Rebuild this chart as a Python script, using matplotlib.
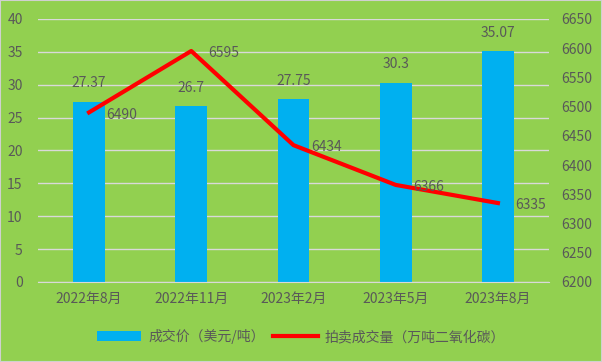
import numpy as np
import matplotlib
matplotlib.use("Agg")
import matplotlib.pyplot as plt
from matplotlib.patches import Rectangle

plt.rcParams['font.family'] = ['Noto Sans CJK SC', 'DejaVu Sans']

months = ["2022年8月", "2022年11月", "2023年2月", "2023年5月", "2023年8月"]
price = [27.37, 26.7, 27.75, 30.3, 35.07]
volume = [6490, 6595, 6434, 6366, 6335]

bg = '#92D050'
bar_color = '#00B0F0'
text_color = '#595959'
grid_color = '#D9D9D9'

fig = plt.figure(figsize=(6.02, 3.62), dpi=100, facecolor=bg)
fig.patches.append(Rectangle((0, 0), 1, 1, transform=fig.transFigure, fill=False,
                             edgecolor='#D0D0D0', linewidth=1.5))
ax = fig.add_axes([0.063, 0.221, 0.849, 0.727])
ax.set_facecolor(bg)
ax2 = ax.twinx()

x = np.arange(len(months))
ax.bar(x, price, width=0.31, color=bar_color, zorder=2, label="成交价（美元/吨）")
for xi, v in zip(x, price):
    ax.text(xi, v + 2.8, "%g" % v, ha='center', va='center', fontsize=10, color=text_color)

ax.set_ylim(0, 40)
ax.set_xlim(-0.5, len(months) - 0.5)
ax.set_yticks(np.arange(0, 41, 5))
ax.grid(True, axis='y', color=grid_color, linewidth=1, zorder=0)
ax.set_axisbelow(True)
ax.set_xticks(x)
ax.set_xticklabels(months)

ax2.plot(x, volume, color='#FF0000', linewidth=3, zorder=3, label="拍卖成交量（万吨二氧化碳）")
for xi, v in zip(x, volume):
    ax2.text(xi + 0.17, v - 4, "%d" % v, ha='left', va='center', fontsize=10, color=text_color)
ax2.set_ylim(6200, 6650)
ax2.set_yticks(np.arange(6200, 6651, 50))

for a in (ax, ax2):
    for s in a.spines.values():
        s.set_visible(False)
    a.tick_params(length=0, colors=text_color, labelsize=10)
ax.spines['bottom'].set_visible(True)
ax.spines['bottom'].set_color(grid_color)
ax.tick_params(axis='x', pad=7)
ax.tick_params(axis='y', pad=11)
ax2.tick_params(axis='y', pad=9)

h1, l1 = ax.get_legend_handles_labels()
h2, l2 = ax2.get_legend_handles_labels()
fig.legend(h1 + h2, l1 + l2, loc='center', bbox_to_anchor=(0.5, 0.07), ncol=2,
           frameon=False, fontsize=10, labelcolor=text_color, handlelength=3.2,
           columnspacing=0.6, handletextpad=0.5)

fig.savefig("out.png", dpi=100, facecolor=bg)
